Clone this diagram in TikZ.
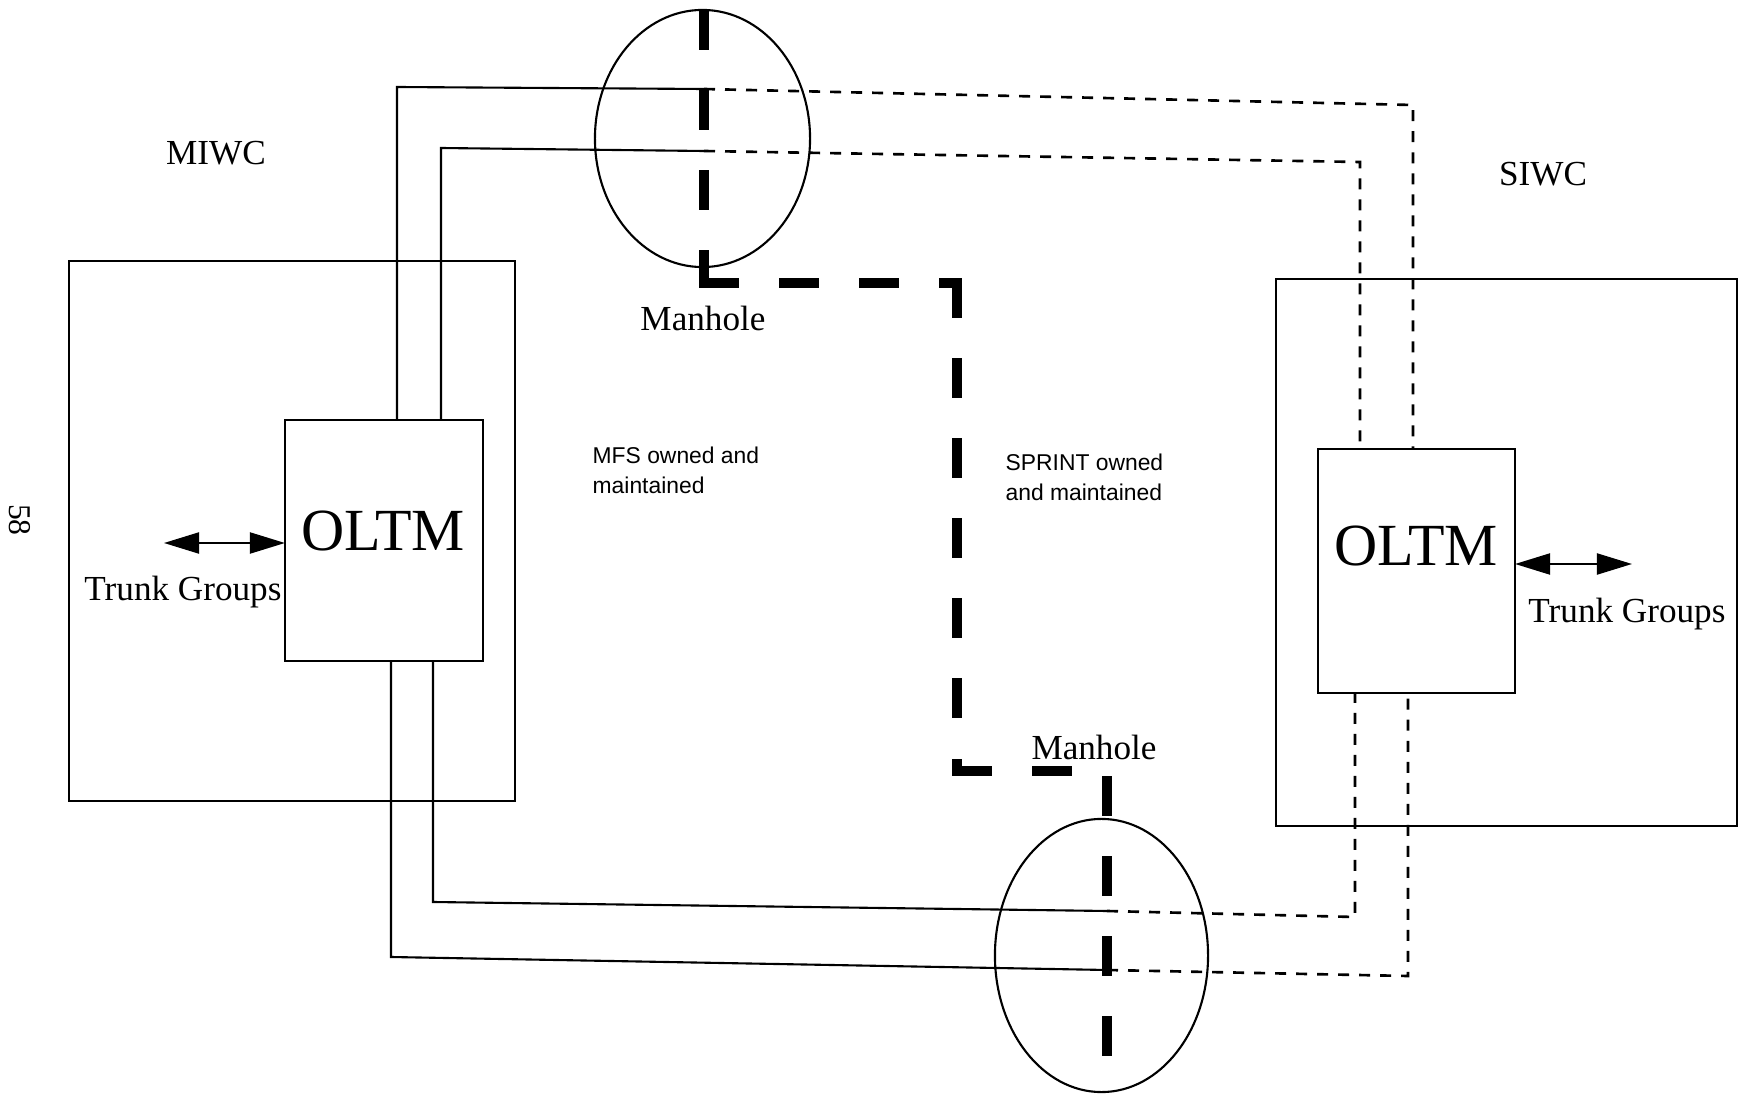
\documentclass[tikz,border=0pt]{standalone}
\usepackage{fontspec}
\setmainfont{Liberation Serif}
\newfontfamily\labelsans{Liberation Sans}
\usetikzlibrary{shapes.geometric,arrows.meta}
\begin{document}
\begin{tikzpicture}[x=0.01cm,y=-0.01cm,
  box/.style={draw, line width=0.6pt, inner sep=0pt, outer sep=0pt},
  manhole/.style={draw, ellipse, line width=0.6pt, inner sep=0pt, outer sep=0pt},
  fiber/.style={line width=0.6pt},
  leased/.style={line width=0.75pt, dash pattern=on 1.1mm off 1.0mm},
  boundary/.style={line width=2.7pt, dash pattern=on 3.05mm off 4.95mm, line cap=rect},
  biarrow/.style={line width=0.6pt, {Triangle[length=3.5mm,width=2.1mm]}-{Triangle[length=3.5mm,width=2.1mm]}},
  lbl/.style={font=\fontsize{10}{12}\selectfont, inner sep=0pt},
  big/.style={font=\fontsize{17}{20}\selectfont, inner sep=0pt},
  small/.style={font=\labelsans\fontsize{6.5}{8.5}\selectfont, align=left, inner sep=0pt},
]
\useasboundingbox (0,0) rectangle (1741,1094);

% sites and OLTM boxes
\node[box, minimum width=4.46cm, minimum height=5.40cm] (lsite) at (292,531) {};
\node[box, minimum width=1.98cm, minimum height=2.41cm] (loltm) at (384,540.5) {};
\node[big] (ltxt) at (383,531) {OLTM};
\node[box, minimum width=4.61cm, minimum height=5.47cm] (rsite) at (1506.5,552.5) {};
\node[box, minimum width=1.97cm, minimum height=2.44cm] (roltm) at (1416.5,571) {};
\node[big] (rtxt) at (1416,546) {OLTM};

% manholes
\node[manhole, minimum width=2.15cm, minimum height=2.57cm] (mh1) at (702.5,138.5) {};
\node[manhole, minimum width=2.13cm, minimum height=2.73cm] (mh2) at (1101.5,955.5) {};

% fiber routes (top)
\coordinate (tA) at (397,87);
\coordinate (tAj) at (704,89);
\coordinate (tAr) at (1413,105);
\coordinate (tB) at (441,148);
\coordinate (tBj) at (704,151);
\coordinate (tBr) at (1360,162);
\draw[fiber] (tA |- loltm.north) -- (tA) -- (tAj);
\draw[leased] (tAj) -- (tAr) -- (tAr |- roltm.north);
\draw[fiber] (tB |- loltm.north) -- (tB) -- (tBj);
\draw[leased] (tBj) -- (tBr) -- (tBr |- roltm.north);

% fiber routes (bottom)
\coordinate (bA) at (391,957);
\coordinate (bAj) at (1107,970);
\coordinate (bAr) at (1408,976);
\coordinate (bB) at (433,902);
\coordinate (bBj) at (1107,911);
\coordinate (bBr) at (1355,917);
\draw[fiber] (bA |- loltm.south) -- (bA) -- (bAj);
\draw[leased] (bAj) -- (bAr) -- (bAr |- roltm.south);
\draw[fiber] (bB |- loltm.south) -- (bB) -- (bBj);
\draw[leased] (bBj) -- (bBr) -- (bBr |- roltm.south);

% ownership boundary
\coordinate (b0) at (704,15);
\coordinate (b1) at (704,283);
\coordinate (b2) at (957,283);
\coordinate (b3) at (957,771);
\coordinate (b4) at (1107,771);
\coordinate (b5) at (1107,1051);
\draw[boundary] (b0) -- (b1);
\draw[boundary] (b1) -- (b2);
\draw[boundary] (b2) -- (b3);
\draw[boundary] (b3) -- (b4);
\draw[boundary, dash phase=7.0mm] (b4) -- (b5);

% trunk group arrows
\coordinate (ltg) at (164,543);
\draw[biarrow] (ltg) -- (ltg -| loltm.west);
\coordinate (rtg) at (1632,564);
\draw[biarrow] (rtg -| roltm.east) -- (rtg);

% labels
\node[lbl] (miwc) at (216,153) {MIWC};
\node[lbl] (siwc) at (1543,174) {SIWC};
\node[lbl] (mhl1) at (703,318) {Manhole};
\node[lbl] (mhl2) at (1094,747) {Manhole};
\node[lbl] (ltgl) at (183,592) {Trunk Groups};
\node[lbl] (rtgl) at (1627,614) {Trunk Groups};
\node[small, anchor=west] (mfs) at (592,470) {MFS owned and\\maintained};
\node[small, anchor=west] (spr) at (1005,477) {SPRINT owned\\and maintained};
\node[lbl, font=\fontsize{9}{11}\selectfont, rotate=-90] (pg) at (20,520) {58};
\end{tikzpicture}
\end{document}
